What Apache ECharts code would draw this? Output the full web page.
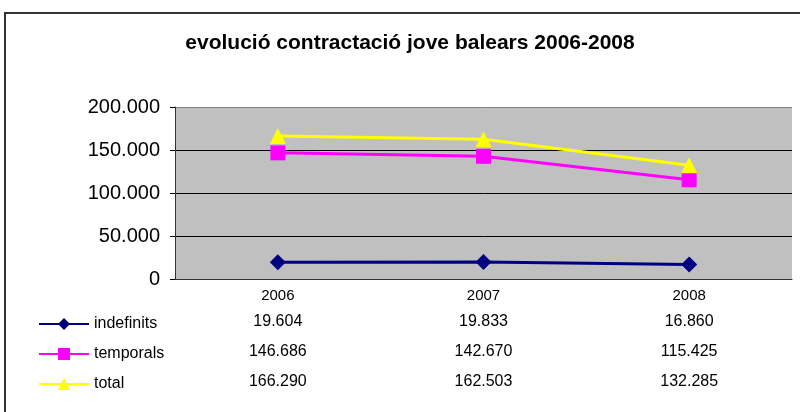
<!DOCTYPE html>
<html>
<head>
<meta charset="utf-8">
<script src="https://cdn.jsdelivr.net/npm/echarts@6/dist/echarts.min.js"></script>
<style>
  html, body { margin: 0; padding: 0; background: #fff; }
  #chart { width: 800px; height: 412px; }
</style>
</head>
<body>
<div id="chart"></div>
<script>
var years = ['2006', '2007', '2008'];
var indefinits = [19604, 19833, 16860];
var temporals = [146686, 142670, 115425];
var total = [166290, 162503, 132285];
var seriesNames = ['indefinits', 'temporals', 'total'];

// punt com a separador de milers
function fmt(v) {
	return String(v).replace(/\B(?=(\d{3})+(?!\d))/g, '.');
}

var myChart = echarts.init(document.getElementById('chart'));
var font = '"Liberation Sans", Arial, sans-serif';

var option = {
	backgroundColor: '#fff',
	animation: false,
	title: {
		text: 'evolució contractació jove balears 2006-2008',
		left: 410,
		textAlign: 'center',
		top: 33,
		padding: 0,
		textStyle: {
			fontFamily: font,
			fontSize: 21,
			fontWeight: 'bold',
			color: '#000'
		}
	},
	graphic: [{
		type: 'rect',
		shape: { x: 5, y: 13, width: 900, height: 500 },
		style: { fill: 'none', stroke: '#333', lineWidth: 2 },
		silent: true
	}],
	legend: {
		orient: 'vertical',
		left: 38,
		top: 316,
		padding: 0,
		itemWidth: 50,
		itemHeight: 15,
		itemGap: 14,
		data: seriesNames,
		textStyle: { fontFamily: font, fontSize: 16, color: '#000' }
	},
	grid: {
		left: 175,
		right: 8,
		top: 107,
		bottom: 133,
		show: true,
		backgroundColor: '#C0C0C0',
		borderWidth: 0
	},
	xAxis: {
		type: 'category',
		data: years,
		axisLine: { lineStyle: { color: '#333', width: 1 } },
		axisTick: { show: false },
		axisLabel: {
			margin: 6,
			fontFamily: font,
			color: '#000',
			formatter: function (value, idx) {
				return '{y|' + value + '}\n{v|' + fmt(indefinits[idx]) + '}\n{v|' +
					fmt(temporals[idx]) + '}\n{v|' + fmt(total[idx]) + '}';
			},
			rich: {
				y: { fontFamily: font, fontSize: 15, lineHeight: 22, color: '#000' },
				v: { fontFamily: font, fontSize: 16, lineHeight: 30, color: '#000' }
			}
		}
	},
	yAxis: {
		type: 'value',
		min: 0,
		max: 200000,
		interval: 50000,
		axisLine: { show: true, lineStyle: { color: '#333', width: 1 } },
		axisTick: { show: true, length: 5, lineStyle: { color: '#000' } },
		axisLabel: {
			margin: 15,
			fontFamily: font,
			fontSize: 20,
			color: '#000',
			formatter: function (v) { return fmt(v); }
		},
		splitLine: {
			lineStyle: { color: ['#333', '#000', '#000', '#000', '#808080'], width: 1 }
		}
	},
	series: [
		{
			name: 'indefinits',
			type: 'line',
			data: indefinits,
			symbol: 'diamond',
			symbolSize: 16,
			lineStyle: { color: '#000080', width: 3 },
			itemStyle: { color: '#000080' }
		},
		{
			name: 'temporals',
			type: 'line',
			data: temporals,
			symbol: 'rect',
			symbolSize: 15,
			lineStyle: { color: '#FF00FF', width: 3 },
			itemStyle: { color: '#FF00FF' }
		},
		{
			name: 'total',
			type: 'line',
			data: total,
			symbol: 'triangle',
			symbolSize: 16,
			lineStyle: { color: '#FFFF00', width: 3 },
			itemStyle: { color: '#FFFF00' }
		}
	]
};

myChart.setOption(option);
</script>
</body>
</html>
